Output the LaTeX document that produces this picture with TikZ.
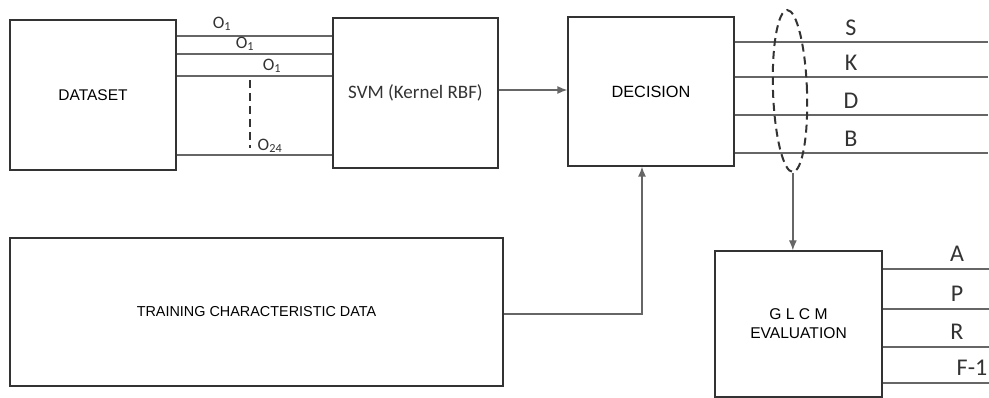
\documentclass[tikz,border=0pt]{standalone}
\usepackage{fontspec}
\setmainfont{Liberation Sans}
\newfontfamily\calibrifont{Carlito}
\usetikzlibrary{shapes.geometric}
\usetikzlibrary{arrows.meta}
\definecolor{box-gray}{HTML}{333333}
\definecolor{wire-gray}{HTML}{666666}

\begin{document}
\begin{tikzpicture}[x=1pt, y=-1pt,
  box/.style={draw=box-gray, line width=1.3pt, inner sep=0pt, align=center},
  wire/.style={draw=wire-gray, line width=1.3pt},
  tip/.style={-{Latex[length=10pt, width=8pt]}},
  text only/.style={inner sep=0pt, align=center},
  port/.style={text only, text=box-gray, font=\calibrifont\fontsize{24}{24}\selectfont},
  sub/.style={text only, text=box-gray, font=\calibrifont\fontsize{17.5}{18}\selectfont}]
\useasboundingbox (0,0) rectangle (989,398);
% blocks
\node[box, minimum width=166pt, minimum height=150pt, font=\fontsize{15.5}{18}\selectfont]
  (dataset)
  at (93, 95)
  {DATASET};
\node[box, minimum width=165pt, minimum height=150pt, font=\calibrifont\fontsize{19}{21}\selectfont, text=box-gray]
  (svm)
  at (415.5, 93)
  {SVM (Kernel RBF)};
\node[box, minimum width=166pt, minimum height=149pt, font=\fontsize{16.3}{18}\selectfont]
  (decision)
  at (651, 91.5)
  {DECISION};
\node[box, minimum width=493pt, minimum height=148pt, font=\fontsize{14.4}{16}\selectfont]
  (training)
  at (256.5, 312)
  {TRAINING CHARACTERISTIC DATA};
\node[box, minimum width=167pt, minimum height=146pt, font=\fontsize{15.6}{19}\selectfont]
  (glcm)
  at (798.5, 324)
  {G L C M\\EVALUATION};
% dataset -> svm
\foreach \y/\name/\lx/\ly/\idx in {36/a/222/24/1, 54/b/245/44/1, 76/c/272/66/1, 155/d/270/146/24} {
  \draw[wire] (dataset.east |- 0,\y) -- (svm.west |- 0,\y);
  \node[sub]
    (out-\name)
    at (\lx, \ly)
    {O\textsubscript{\idx}};
}
\coordinate (dots-top) at (250, 80);
\coordinate (dots-bot) at (250, 148);
\draw[box-gray, line width=2pt, dash pattern=on 8pt off 5pt] (dots-top) -- (dots-bot);
\draw[wire, tip] (svm.east |- 0,90) -- (decision.west |- 0,90);
\draw[wire, tip] (training.east |- 0,314) -| (decision.south -| 642,0);
% decision outputs
\foreach \y/\name in {42/S, 77/K, 115/D, 153/B} {
  \draw[wire] (decision.east |- 0,\y) -- ++(253,0);
  \node[port]
    (class-\name)
    at (851, \y-14)
    {\name};
}
\node[draw=box-gray, line width=2pt, dash pattern=on 8pt off 5pt, ellipse, minimum width=34pt, minimum height=162pt, inner sep=0pt, rotate=2]
  (group)
  at (790, 91)
  {};
\draw[wire, tip] (group.south) -- (group.south |- glcm.north);
% evaluation outputs
\foreach \y/\name/\lx in {269/A/957, 309/P/957, 347/R/957, 383/F-1/972} {
  \draw[wire] (glcm.east |- 0,\y) -- ++(107,0);
  \node[port]
    (metric-\name)
    at (\lx, \y-15)
    {\name};
}
\end{tikzpicture}
\end{document}
